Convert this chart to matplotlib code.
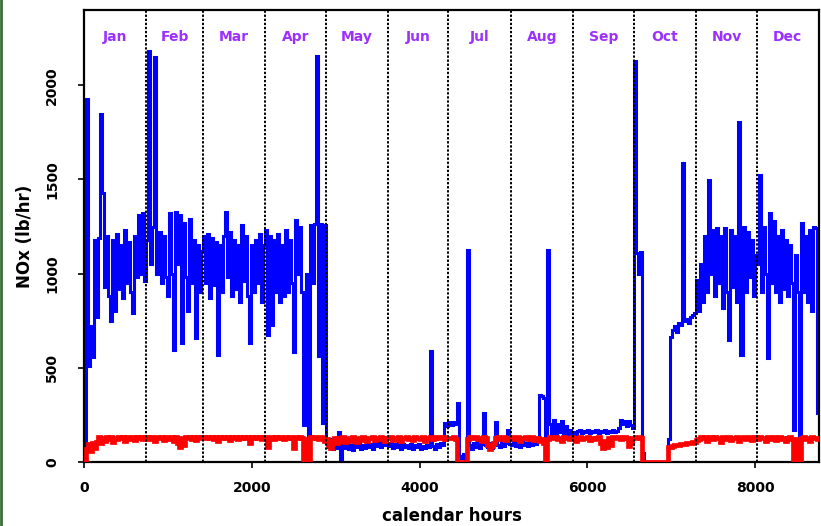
import numpy as np
import matplotlib
matplotlib.use("Agg")
import matplotlib.pyplot as plt
from matplotlib.lines import Line2D

# daily NOx readings (lb/hr), one value per 24 calendar hours
blue_jan = [0, 1930, 510, 720, 560, 1180, 770, 1190, 1850, 1430, 930, 1200, 880, 750, 1180,
            800, 1210, 920, 1150, 870, 1230, 950, 1170, 900, 790, 1200, 980, 1310, 1000, 1320, 960]
blue_feb = [1180, 2180, 1050, 1250, 2150, 1000, 1220, 950, 1200, 980, 880, 1320, 1000, 594,
            1330, 1050, 1310, 630, 1270, 980, 800, 1290, 950, 1180, 660, 1150, 900, 1120]
blue_mar = [1200, 950, 1210, 870, 1190, 940, 1170, 568, 1150, 900, 1200, 1330, 980, 1220, 880,
            1180, 920, 1150, 850, 1260, 960, 1200, 880, 630, 1150, 900, 1180, 950, 1210, 850, 1150]
blue_apr = [1230, 673, 1200, 725, 1180, 900, 1210, 850, 1150, 880, 1230, 900, 1180, 950, 583,
            1284, 1000, 1250, 900, 196, 1000, 10, 1260, 950, 1266, 2155, 565, 1266, 205, 1260]
blue_may = [100, 80, 120, 70, 90, 75, 160, 0, 100, 75, 95, 70, 90, 65, 95, 80, 100, 70, 90, 75,
            100, 80, 95, 70, 100, 85, 110, 80, 105, 90, 100]
blue_jun = [85, 100, 75, 95, 80, 100, 70, 95, 80, 90, 75, 95, 70, 90, 80, 95, 70, 85, 75, 90,
            80, 590, 85, 70, 95, 80, 100, 90, 205, 190]
blue_jul = [210, 195, 212, 200, 312, 30, 20, 40, 15, 1125, 90, 70, 100, 80, 110, 75, 95, 261,
            90, 80, 100, 75, 95, 212, 90, 80, 110, 85, 100, 170, 95]
blue_aug = [90, 110, 85, 100, 80, 115, 90, 100, 85, 110, 90, 105, 95, 110, 355, 350, 340, 0,
            1125, 200, 150, 222, 140, 200, 160, 215, 150, 190, 140, 170, 150]
blue_sep = [160, 150, 165, 170, 155, 165, 160, 170, 155, 165, 160, 170, 155, 165, 160, 168,
            155, 165, 160, 170, 158, 165, 180, 222, 200, 215, 190, 220, 195, 180]
blue_oct = [2130, 1110, 1000, 1114, 48, 0, 0, 0, 0, 0, 0, 0, 0, 0, 0, 0, 0, 120, 663, 700,
            720, 690, 740, 730, 1586, 750, 760, 740, 770, 780, 790]
blue_nov = [965, 800, 1050, 850, 1200, 900, 1496, 1000, 1230, 880, 1245, 950, 1200, 820, 1240,
            900, 647, 1230, 930, 1200, 850, 1804, 568, 1250, 900, 1220, 980, 1180, 880, 1100]
blue_dec = [1050, 1522, 900, 1250, 1000, 550, 1320, 950, 1280, 900, 1200, 850, 1230, 920, 1180,
            880, 1150, 950, 170, 1100, 900, 0, 1270, 900, 1200, 850, 1230, 800, 1250, 1240, 260]

red_jan = [0, 70, 95, 60, 100, 75, 105, 135, 100, 130, 110, 135, 120, 135, 105, 130, 120, 135,
           125, 135, 110, 135, 120, 130, 135, 115, 135, 125, 135, 120, 135]
red_feb = [135, 120, 135, 130, 110, 135, 125, 135, 115, 135, 130, 120, 135, 110, 135, 100, 80,
           130, 90, 135, 125, 135, 120, 135, 115, 135, 125, 135]
red_mar = [135, 125, 135, 130, 135, 120, 135, 110, 135, 130, 135, 125, 135, 115, 135, 130, 135,
           120, 135, 125, 135, 130, 135, 100, 135, 125, 135, 130, 135, 120, 135]
red_apr = [135, 80, 130, 135, 120, 135, 125, 135, 130, 120, 135, 125, 135, 130, 73, 135, 125,
           135, 130, 0, 120, 0, 135, 125, 135, 130, 120, 135, 125, 110]
red_may = [120, 90, 75, 110, 130, 100, 125, 110, 135, 105, 125, 130, 110, 135, 120, 105, 130,
           115, 135, 120, 110, 130, 125, 135, 115, 130, 120, 135, 125, 110, 130]
red_jun = [125, 135, 115, 130, 120, 135, 110, 130, 125, 135, 120, 130, 115, 135, 125, 130, 120,
           135, 110, 130, 125, 135, 120, 130, 135, 125, 130, 135, 120, 130]
red_jul = [125, 130, 135, 120, 0, 0, 0, 0, 0, 120, 135, 125, 130, 135, 120, 130, 110, 135, 125,
           90, 70, 85, 100, 130, 135, 120, 130, 135, 115, 130, 125]
red_aug = [135, 120, 130, 135, 110, 130, 125, 135, 120, 130, 135, 115, 130, 125, 110, 120, 100,
           0, 120, 135, 125, 130, 135, 120, 130, 110, 135, 125, 130, 120, 135]
red_sep = [125, 110, 130, 135, 120, 130, 125, 135, 115, 130, 120, 125, 135, 100, 75, 110, 80,
           125, 90, 135, 125, 130, 135, 120, 130, 135, 125, 85, 100, 130]
red_oct = [130, 135, 135, 130, 0, 0, 0, 0, 0, 0, 0, 0, 0, 0, 0, 0, 0, 80, 82, 85, 88, 90, 92,
           95, 95, 98, 100, 100, 103, 105, 106]
red_nov = [115, 120, 135, 125, 135, 110, 130, 135, 120, 135, 125, 130, 105, 135, 120, 130, 135,
           115, 130, 125, 135, 110, 130, 135, 120, 125, 135, 115, 130, 135]
red_dec = [120, 135, 125, 130, 110, 135, 120, 130, 135, 115, 125, 135, 120, 130, 110, 125, 135,
           120, 0, 110, 120, 0, 125, 135, 120, 130, 110, 135, 125, 130, 120]

months = ["Jan", "Feb", "Mar", "Apr", "May", "Jun", "Jul", "Aug", "Sep", "Oct", "Nov", "Dec"]
month_days = [31, 28, 31, 30, 31, 30, 31, 31, 30, 31, 30, 31]

blue = np.concatenate([blue_jan, blue_feb, blue_mar, blue_apr, blue_may, blue_jun,
                       blue_jul, blue_aug, blue_sep, blue_oct, blue_nov, blue_dec])
red = np.concatenate([red_jan, red_feb, red_mar, red_apr, red_may, red_jun,
                      red_jul, red_aug, red_sep, red_oct, red_nov, red_dec])
hours = np.arange(len(blue)) * 24

edges = np.cumsum([0] + month_days) * 24

fig = plt.figure(figsize=(8.21, 5.26), dpi=100)
ax = fig.add_axes([0.1023, 0.1217, 0.8953, 0.8593])

ax.plot(hours, blue, color="#0000ff", lw=2.2, drawstyle="steps-post",
        solid_joinstyle="miter", zorder=2)
ax.plot(hours, red, color="#ff0000", lw=3.4, drawstyle="steps-post",
        solid_joinstyle="miter", zorder=3)

for e in edges[1:-1]:
    ax.axvline(e, color="black", lw=1.4, linestyle=(0, (1.2, 0.9)), zorder=4)

for i, m in enumerate(months):
    mid = (edges[i] + edges[i + 1]) / 2
    ax.text(mid, 0.94, m, transform=ax.get_xaxis_transform(), ha="center", va="center",
            color="#9b30ff", fontsize=10, fontweight="bold")

ax.set_xlim(0, 8760)
ax.set_ylim(0, 2400)
ax.set_xticks([0, 2000, 4000, 6000, 8000])
ax.set_yticks([0, 500, 1000, 1500, 2000])
ax.tick_params(axis="x", length=4, width=1.2, pad=10, labelsize=10)
ax.tick_params(axis="y", length=4, width=1.2, pad=14, labelsize=10)
for lab in ax.get_xticklabels():
    lab.set_fontweight("bold")
for lab in ax.get_yticklabels():
    lab.set_fontweight("bold")
    lab.set_rotation(90)
    lab.set_va("center")

for sp in ax.spines.values():
    sp.set_linewidth(1.6)
    sp.set_color("black")

ax.set_xlabel("calendar hours", fontsize=12, fontweight="bold", labelpad=8)
ax.set_ylabel("NOx (lb/hr)", fontsize=12, fontweight="bold", labelpad=8)

# dark green frame edge on the left
fig.add_artist(Line2D([0.001, 0.001], [0, 1], transform=fig.transFigure, color="#3c6e3c", lw=2))

fig.savefig("out.png", dpi=100)
